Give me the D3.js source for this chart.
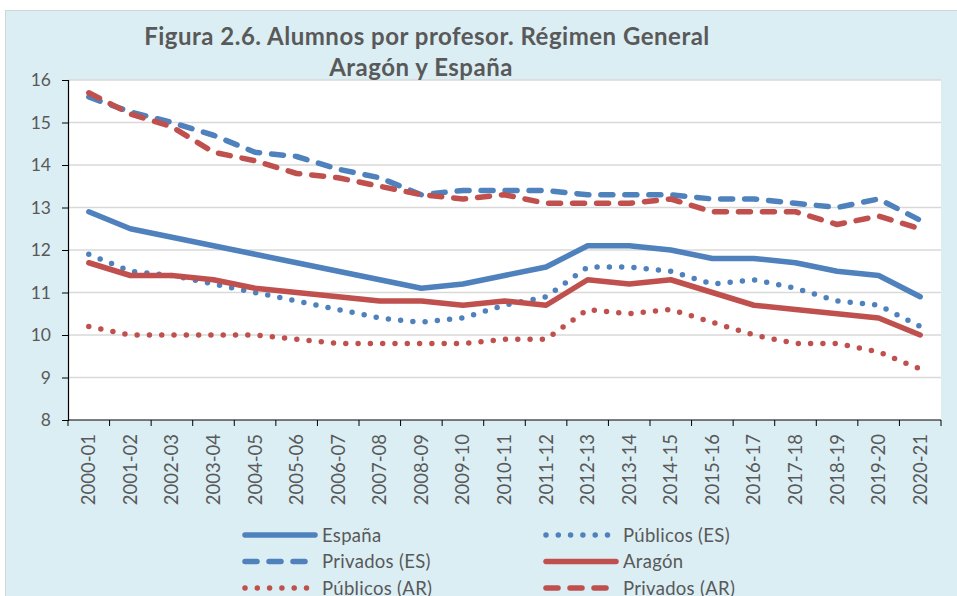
<!DOCTYPE html>
<html lang="es">
<head>
<meta charset="UTF-8" />
<title>Figura 2.6</title>
<script src="https://cdnjs.cloudflare.com/ajax/libs/d3/7.8.5/d3.min.js"></script>
<style>
  body { margin: 0; background: #fff; }
  text { font-family: Lato, "Open Sans", sans-serif; fill: #595959; }
</style>
</head>
<body>
<div id="chart"></div>
<script>
var cursos = ['2000-01', '2001-02', '2002-03', '2003-04', '2004-05', '2005-06', '2006-07',
  '2007-08', '2008-09', '2009-10', '2010-11', '2011-12', '2012-13', '2013-14', '2014-15',
  '2015-16', '2016-17', '2017-18', '2018-19', '2019-20', '2020-21'];

var espana      = [12.9, 12.5, 12.3, 12.1, 11.9, 11.7, 11.5, 11.3, 11.1, 11.2, 11.4, 11.6, 12.1, 12.1, 12.0, 11.8, 11.8, 11.7, 11.5, 11.4, 10.9];
var publicosES  = [11.9, 11.5, 11.4, 11.2, 11.0, 10.8, 10.6, 10.4, 10.3, 10.4, 10.7, 10.9, 11.6, 11.6, 11.5, 11.2, 11.3, 11.1, 10.8, 10.7, 10.2];
var privadosES  = [15.6, 15.25, 15.0, 14.7, 14.3, 14.2, 13.9, 13.7, 13.3, 13.4, 13.4, 13.4, 13.3, 13.3, 13.3, 13.2, 13.2, 13.1, 13.0, 13.2, 12.7];
var aragon      = [11.7, 11.4, 11.4, 11.3, 11.1, 11.0, 10.9, 10.8, 10.8, 10.7, 10.8, 10.7, 11.3, 11.2, 11.3, 11.0, 10.7, 10.6, 10.5, 10.4, 10.0];
var publicosAR  = [10.2, 10.0, 10.0, 10.0, 10.0, 9.9, 9.8, 9.8, 9.8, 9.8, 9.9, 9.9, 10.6, 10.5, 10.6, 10.3, 10.0, 9.8, 9.8, 9.6, 9.2];
var privadosAR  = [15.7, 15.2, 14.9, 14.3, 14.1, 13.8, 13.7, 13.5, 13.3, 13.2, 13.3, 13.1, 13.1, 13.1, 13.2, 12.9, 12.9, 12.9, 12.6, 12.8, 12.5];

var yTicks = [8, 9, 10, 11, 12, 13, 14, 15, 16];

var blue = '#4F81BD', red = '#C0504D';
var dashed = '12,12', dotted = '0,12.3';

var series = [
  { name: 'España', values: espana, color: blue, dash: null },
  { name: 'Públicos (ES)', values: publicosES, color: blue, dash: dotted },
  { name: 'Privados (ES)', values: privadosES, color: blue, dash: dashed },
  { name: 'Aragón', values: aragon, color: red, dash: null },
  { name: 'Públicos (AR)', values: publicosAR, color: red, dash: dotted },
  { name: 'Privados (AR)', values: privadosAR, color: red, dash: dashed }
];

var width = 957, height = 596;
var plot = { left: 68, right: 941, top: 80, bottom: 420 };

var svg = d3.select('#chart').append('svg')
  .attr('width', width)
  .attr('height', height);

// fondo del gráfico
svg.append('rect')
  .attr('x', 5.5).attr('y', 10.5)
  .attr('width', width).attr('height', height)
  .attr('fill', '#DBEEF4')
  .attr('stroke', '#D0D7DA');

svg.append('rect')
  .attr('x', plot.left).attr('y', plot.top)
  .attr('width', plot.right - plot.left).attr('height', plot.bottom - plot.top)
  .attr('fill', '#fff');

var x = d3.scaleBand().domain(cursos).range([plot.left, plot.right]).padding(0);
var y = d3.scaleLinear().domain([8, 16]).range([plot.bottom, plot.top]);
var cx = function (c) { return x(c) + x.bandwidth() / 2; };

// rejilla
svg.append('g')
  .selectAll('line')
  .data(yTicks.slice(1))
  .enter().append('line')
  .attr('x1', plot.left).attr('x2', plot.right)
  .attr('y1', function (d) { return y(d); })
  .attr('y2', function (d) { return y(d); })
  .attr('stroke', '#D9D9D9')
  .attr('stroke-width', 1.5);

// eje Y
var yAxis = svg.append('g')
  .attr('transform', 'translate(' + plot.left + ',0)')
  .call(d3.axisLeft(y).tickValues(yTicks).tickSize(6).tickPadding(11));
yAxis.select('.domain').attr('stroke', '#000').attr('stroke-width', 1.2);
yAxis.selectAll('.tick line').attr('stroke', '#000');
yAxis.selectAll('.tick text')
  .style('font-size', '17.5px')
  .style('font-family', 'Lato, sans-serif')
  .attr('fill', '#595959');

// eje X (marcas entre categorías)
svg.append('line')
  .attr('x1', plot.left).attr('x2', plot.right)
  .attr('y1', plot.bottom).attr('y2', plot.bottom)
  .attr('stroke', '#000').attr('stroke-width', 1.2);

var edges = cursos.map(function (c) { return x(c); }).concat([plot.right]);
svg.append('g')
  .selectAll('line')
  .data(edges)
  .enter().append('line')
  .attr('x1', function (d) { return d; })
  .attr('x2', function (d) { return d; })
  .attr('y1', plot.bottom).attr('y2', plot.bottom + 6)
  .attr('stroke', '#000');

svg.append('g')
  .selectAll('text')
  .data(cursos)
  .enter().append('text')
  .attr('transform', function (d) {
    return 'translate(' + (cx(d) + 6.5) + ',' + (plot.bottom + 14) + ') rotate(-90)';
  })
  .attr('text-anchor', 'end')
  .style('font-size', '18.5px')
  .text(function (d) { return d; });

// líneas
var line = d3.line()
  .x(function (d, i) { return cx(cursos[i]); })
  .y(function (d) { return y(d); });

svg.append('g')
  .selectAll('path')
  .data(series)
  .enter().append('path')
  .attr('d', function (s) { return line(s.values); })
  .attr('fill', 'none')
  .attr('stroke', function (s) { return s.color; })
  .attr('stroke-width', 5.5)
  .attr('stroke-linecap', 'round')
  .attr('stroke-linejoin', 'round')
  .attr('stroke-dasharray', function (s) { return s.dash; });

// título
var title = svg.append('text')
  .attr('text-anchor', 'middle')
  .style('font-size', '24px')
  .style('font-weight', 'bold')
  .style('letter-spacing', '0.5px');
title.append('tspan').attr('x', 427).attr('y', 45).text('Figura 2.6. Alumnos por profesor. Régimen General');
title.append('tspan').attr('x', 421).attr('y', 76).text('Aragón y España');

// leyenda
var legend = svg.append('g')
  .selectAll('g')
  .data(series)
  .enter().append('g')
  .attr('transform', function (d, i) {
    var col = i % 2, row = Math.floor(i / 2);
    return 'translate(' + (col === 0 ? 245 : 546) + ',' + (535 + row * 26.5) + ')';
  });

legend.append('line')
  .attr('x1', 0).attr('x2', 70)
  .attr('y1', 0).attr('y2', 0)
  .attr('stroke', function (d) { return d.color; })
  .attr('stroke-width', 5.5)
  .attr('stroke-linecap', 'round')
  .attr('stroke-dasharray', function (d) { return d.dash; });

legend.append('text')
  .attr('x', 77)
  .attr('y', 6.5)
  .style('font-size', '18.5px')
  .style('letter-spacing', '0.3px')
  .text(function (d) { return d.name; });
</script>
</body>
</html>
